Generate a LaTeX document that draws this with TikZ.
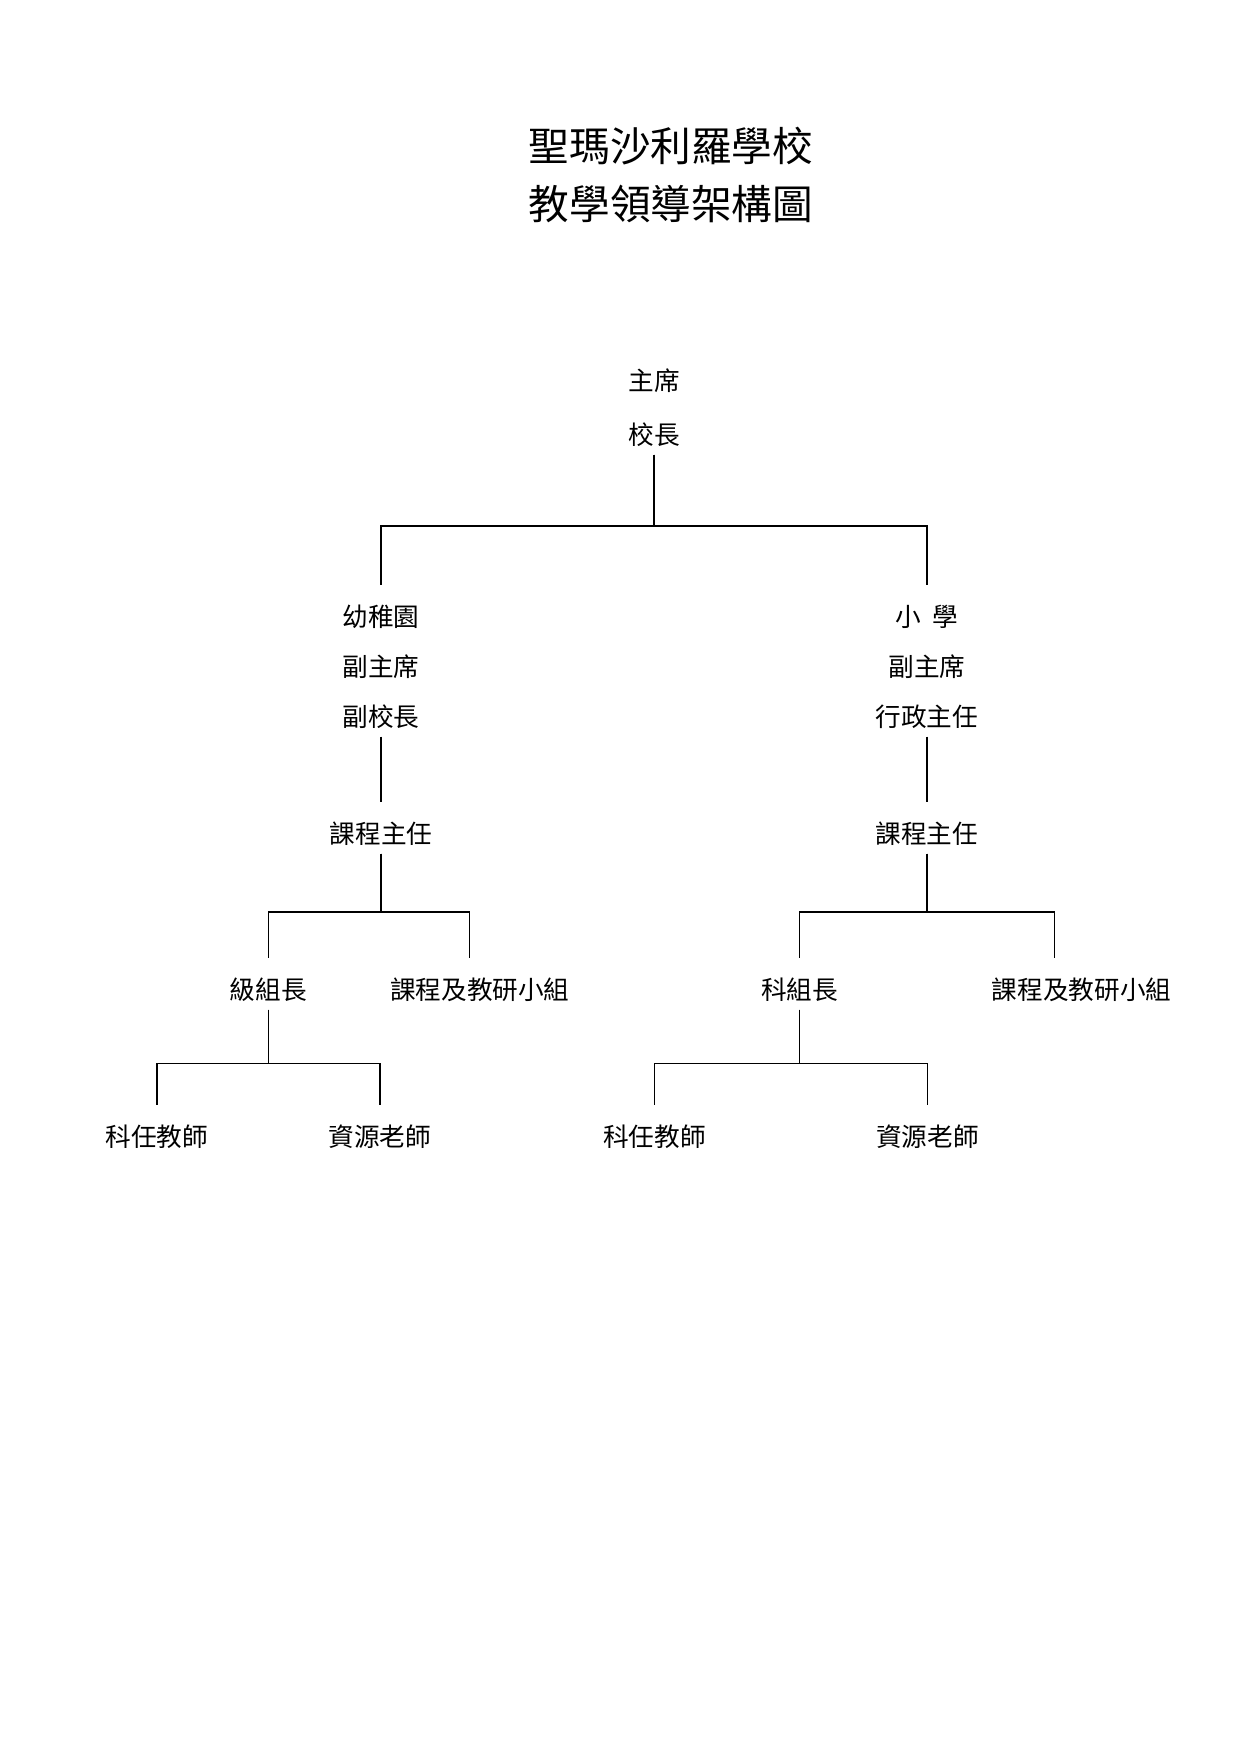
\documentclass[tikz,border=0pt]{standalone}
\usepackage{fontspec}
\setmainfont{Noto Sans CJK TC}
\usepackage{tikz}
\usetikzlibrary{calc}

\begin{document}
\begin{tikzpicture}[x=0.4797pt, y=-0.4797pt,
        every node/.style={font=\fontsize{12.3}{24}\selectfont, align=center, inner sep=3.5pt},
        edge from parent/.style={draw, line width=0.75pt},
        edge from parent path={(\tikzparentnode.south) |- ($(\tikzparentnode.south)!.5!(\tikzchildnode.north)$) -| ([yshift=6pt]\tikzchildnode.north)},
        teamshift/.style={edge from parent path={(\tikzparentnode.south) |- ($(\tikzparentnode.south)!.5!(\tikzchildnode.north)$) -| ([xshift=-#1,yshift=6pt]\tikzchildnode.north)}},
        level 1/.style={sibling distance=261.9pt, level distance=124.3pt},
        level 2/.style={level distance=80.1pt},
        level 3/.style={sibling distance=96.4pt, level distance=74.8pt},
        level 4/.style={sibling distance=107pt, level distance=70.5pt}
    ]
        \useasboundingbox (0,0) rectangle (1241,1755);
        \node[font=\fontsize{19.5}{27.4}\selectfont] (title) at (671,175) {聖瑪沙利羅學校\\教學領導架構圖};
        \node (chair) at (654,408) {主席\\[2pt]校長}
        child {
            node (kgvice) {幼稚園\\副主席\\副校長}
            child {
                node (kgcurr) {課程主任}
                child[xshift=-5.8pt] {
                    node (kglead) {級組長}
                    child { node (kgsubj) {科任教師} }
                    child { node (kgres) {資源老師} }
                }
                child[xshift=-5.8pt, teamshift=5pt] { node[xshift=5pt] (kgteam) {課程及教研小組} }
            }
        }
        child[level 3/.style={sibling distance=122.3pt, level distance=74.8pt},
              level 4/.style={sibling distance=131pt, level distance=70.5pt}] {
            node (psvice) {小\hspace{0.45em}學\\副主席\\行政主任}
            child {
                node (pscurr) {課程主任}
                child {
                    node (pslead) {科組長}
                    child[xshift=-4.1pt] { node (pssubj) {科任教師} }
                    child[xshift=-4.1pt] { node (psres) {資源老師} }
                }
                child[teamshift=13pt] { node[xshift=13pt] (psteam) {課程及教研小組} }
            }
        };
\end{tikzpicture}
\end{document}
